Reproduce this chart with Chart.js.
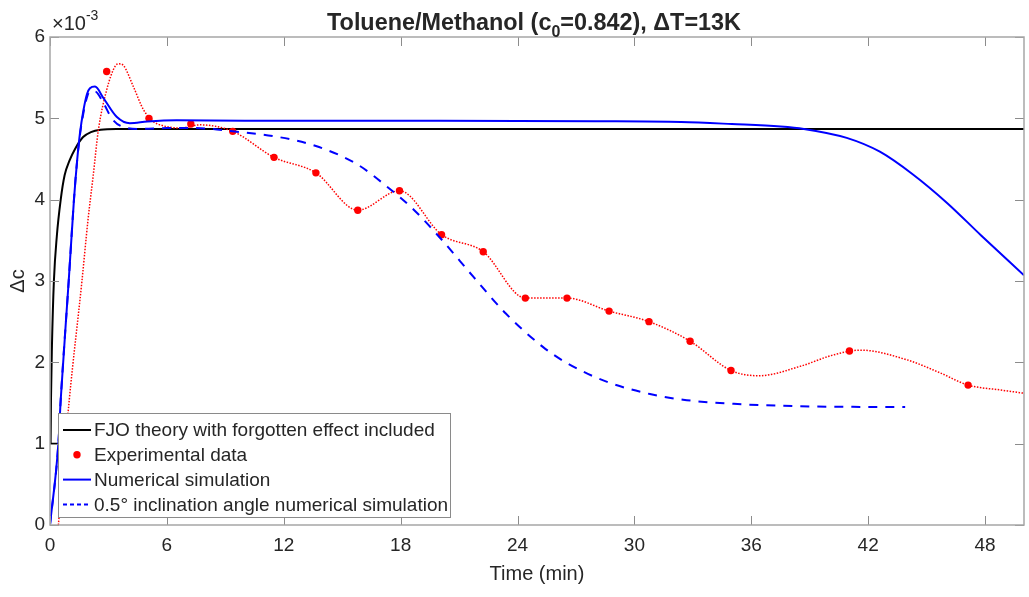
<!DOCTYPE html>
<html lang="en">
<head>
  <meta charset="UTF-8">
  <title>Toluene/Methanol - Delta c over time</title>
  <script src="https://cdn.jsdelivr.net/npm/chart.js"></script>
  <style>
    body {
      margin: 0;
      background-color: #fff;
    }

    canvas {
      display: block;
    }
  </style>
</head>
<body>

  <canvas id="grafico" width="1029" height="597"></canvas>

  <script>
    // values of delta c are in units of 1e-3
    const xTicks = [0, 6, 12, 18, 24, 30, 36, 42, 48];
    const yTicks = [0, 1, 2, 3, 4, 5, 6];

    // experimental points
    const expTime = [2.91, 5.08, 7.23, 9.38, 11.5, 13.65, 15.8, 17.94, 20.1, 22.24, 24.4, 26.54, 28.7, 30.75, 32.86, 34.96, 41.04, 47.13];
    const expDc = [5.575, 5.0, 4.93, 4.84, 4.52, 4.33, 3.87, 4.11, 3.57, 3.36, 2.79, 2.79, 2.63, 2.50, 2.26, 1.90, 2.14, 1.72];

    // red dotted fit through the experimental data
    const fitTime = [0.43, 0.99, 1.64, 1.95, 2.22, 2.48, 2.91, 3.34, 3.55, 3.77, 4.28, 4.79, 5.31, 5.65, 6.68, 7.7, 9.38, 11.5, 13.65, 15.8, 17.94, 20.1, 22.24, 24.4, 26.54, 28.7, 30.75, 32.86, 34.96, 36.4, 38.5, 40.2, 41.6, 44.0, 45.7, 47.13, 48.8, 50];
    const fitDc = [0, 1.54, 3.0, 3.75, 4.3, 4.85, 5.35, 5.64, 5.67, 5.65, 5.39, 5.11, 4.96, 4.92, 4.88, 4.92, 4.84, 4.52, 4.33, 3.87, 4.11, 3.57, 3.36, 2.79, 2.79, 2.63, 2.50, 2.26, 1.90, 1.835, 1.95, 2.09, 2.15, 2.03, 1.87, 1.72, 1.66, 1.62];

    // FJO theory
    const fjoTime = [0.4, 0.03, 0.05, 0.1, 0.2, 0.35, 0.55, 0.75, 1.0, 1.3, 1.7, 2.1, 2.6, 3.4, 50];
    const fjoDc = [1.0, 1.0, 1.54, 2.2, 3.0, 3.55, 4.0, 4.3, 4.48, 4.63, 4.77, 4.83, 4.86, 4.87, 4.87];

    // numerical simulation
    const simTime = [0, 0.43, 0.55, 0.96, 1.23, 1.4, 1.54, 1.71, 1.9, 2.05, 2.31, 2.74, 3.42, 4.1, 5.0, 6.5, 10, 20, 28, 32.4, 35, 37.5, 38.7, 40.9, 42.6, 44.3, 46.05, 47.8, 50];
    const simDc = [0, 1.0, 1.54, 3.0, 4.0, 4.5, 4.82, 5.09, 5.3, 5.37, 5.39, 5.25, 5.02, 4.94, 4.96, 4.975, 4.97, 4.97, 4.965, 4.955, 4.93, 4.90, 4.87, 4.76, 4.59, 4.31, 3.96, 3.56, 3.07];

    // 0.5 degree inclination simulation
    const incTime = [0, 0.43, 0.55, 0.96, 1.23, 1.4, 1.54, 1.71, 1.9, 2.05, 2.31, 2.74, 3.17, 3.68, 4.62, 6, 7.5, 9.38, 11.5, 13.65, 15.8, 17.3, 18.66, 20.1, 21.74, 23.4, 25.3, 26.54, 28.6, 30.8, 32.5, 35.1, 38.5, 43.9];
    const incDc = [0, 1.0, 1.54, 3.0, 4.0, 4.5, 4.8, 5.06, 5.26, 5.33, 5.33, 5.19, 5.0, 4.9, 4.87, 4.88, 4.88, 4.84, 4.78, 4.66, 4.43, 4.16, 3.88, 3.51, 3.05, 2.6, 2.19, 1.99, 1.76, 1.61, 1.54, 1.49, 1.46, 1.45];

    function pontos(xs, ys) {
      return xs.map((x, i) => ({ x: x, y: ys[i] }));
    }

    const corTexto = '#262626';
    const fonte = 'Arial, "Liberation Sans", sans-serif';

    // frame with inward ticks, title, exponent and legend, drawn the MATLAB way
    const moldura = {
      id: 'moldura',
      afterDatasetsDraw(chart) {
        const ctx = chart.ctx;
        const a = chart.chartArea;
        const sx = chart.scales.x;
        const sy = chart.scales.y;
        const tam = 9;
        ctx.save();
        ctx.strokeStyle = '#8c8c8c';
        ctx.lineWidth = 1;
        ctx.beginPath();
        xTicks.forEach(v => {
          const px = Math.round(sx.getPixelForValue(v)) + 0.5;
          ctx.moveTo(px, a.bottom); ctx.lineTo(px, a.bottom - tam);
          ctx.moveTo(px, a.top); ctx.lineTo(px, a.top + tam);
        });
        yTicks.forEach(v => {
          const py = Math.round(sy.getPixelForValue(v)) + 0.5;
          ctx.moveTo(a.left, py); ctx.lineTo(a.left + tam, py);
          ctx.moveTo(a.right, py); ctx.lineTo(a.right - tam, py);
        });
        ctx.stroke();
        ctx.strokeStyle = '#a6a6a6';
        ctx.lineWidth = 1.5;
        ctx.strokeRect(a.left, a.top, a.right - a.left, a.bottom - a.top);
        ctx.restore();
      },
      afterDraw(chart) {
        const ctx = chart.ctx;
        const a = chart.chartArea;
        ctx.save();
        ctx.fillStyle = corTexto;
        ctx.textBaseline = 'alphabetic';

        // title with subscript
        const p1 = 'Toluene/Methanol (c';
        const p2 = '0';
        const p3 = '=0.842), \u0394T=13K';
        const fTit = 'bold 23.4px ' + fonte;
        const fSub = 'bold 16px ' + fonte;
        ctx.font = fTit;
        const w1 = ctx.measureText(p1).width;
        const w3 = ctx.measureText(p3).width;
        ctx.font = fSub;
        const w2 = ctx.measureText(p2).width;
        let x = (a.left + a.right) / 2 - 3 - (w1 + w2 + w3) / 2;
        ctx.textAlign = 'left';
        ctx.font = fTit;
        ctx.fillText(p1, x, 30);
        ctx.font = fSub;
        ctx.fillText(p2, x + w1, 37);
        ctx.font = fTit;
        ctx.fillText(p3, x + w1 + w2, 30);

        // exponent
        ctx.font = '20px ' + fonte;
        ctx.fillText('\u00d710', a.left + 2, 30);
        const wx = ctx.measureText('\u00d710').width;
        ctx.font = '14px ' + fonte;
        ctx.fillText('-3', a.left + 2 + wx, 20);

        // legend
        const caixa = { x: 58, y: 413, w: 392, h: 104 };
        ctx.fillStyle = '#fff';
        ctx.fillRect(caixa.x, caixa.y, caixa.w, caixa.h);
        ctx.strokeStyle = '#8a8a8a';
        ctx.lineWidth = 1;
        ctx.strokeRect(caixa.x + 0.5, caixa.y + 0.5, caixa.w, caixa.h);

        const itens = chart.data.datasets.filter(d => d.legenda);
        itens.sort((d1, d2) => d1.legenda - d2.legenda);
        ctx.font = '19px ' + fonte;
        ctx.textBaseline = 'middle';
        itens.forEach((d, i) => {
          const y = caixa.y + 17 + i * 24.8;
          if (d.showLine) {
            ctx.strokeStyle = d.borderColor;
            ctx.lineWidth = d.borderWidth;
            ctx.setLineDash(d.borderDash && d.borderDash.length ? [4, 3] : []);
            ctx.beginPath();
            ctx.moveTo(63, y);
            ctx.lineTo(91, y);
            ctx.stroke();
            ctx.setLineDash([]);
          } else {
            ctx.fillStyle = d.pointBackgroundColor;
            ctx.beginPath();
            ctx.arc(77, y, 3.7, 0, Math.PI * 2);
            ctx.fill();
          }
          ctx.fillStyle = corTexto;
          ctx.fillText(d.label, 94, y + 1);
        });
        ctx.restore();
      }
    };

    const ctx = document.getElementById('grafico').getContext('2d');
    new Chart(ctx, {
      type: 'scatter',
      data: {
        datasets: [
          {
            label: '0.5\u00b0 inclination angle numerical simulation',
            legenda: 4,
            data: pontos(incTime, incDc),
            showLine: true,
            borderColor: '#0000ff',
            borderWidth: 2,
            borderDash: [9, 8],
            pointRadius: 0,
            cubicInterpolationMode: 'monotone',
            order: 1
          },
          {
            label: 'Numerical simulation',
            legenda: 3,
            data: pontos(simTime, simDc),
            showLine: true,
            borderColor: '#0000ff',
            borderWidth: 2,
            pointRadius: 0,
            cubicInterpolationMode: 'monotone',
            order: 2
          },
          {
            label: 'Experimental data',
            legenda: 2,
            data: pontos(expTime, expDc),
            showLine: false,
            pointRadius: 3.7,
            pointBackgroundColor: '#ff0000',
            pointBorderWidth: 0,
            order: 3
          },
          {
            label: 'fit',
            data: pontos(fitTime, fitDc),
            showLine: true,
            borderColor: '#ff0000',
            borderWidth: 1.5,
            borderDash: [1.5, 1.5],
            pointRadius: 0,
            cubicInterpolationMode: 'monotone',
            order: 4
          },
          {
            label: 'FJO theory with forgotten effect included',
            legenda: 1,
            data: pontos(fjoTime, fjoDc),
            showLine: true,
            borderColor: '#000000',
            borderWidth: 2,
            pointRadius: 0,
            cubicInterpolationMode: 'monotone',
            order: 5
          }
        ]
      },
      options: {
        responsive: false,
        animation: false,
        devicePixelRatio: 1,
        layout: {
          padding: { left: 0, top: 37, right: 5, bottom: 0 }
        },
        plugins: {
          legend: { display: false },
          tooltip: { enabled: false },
          title: { display: false }
        },
        scales: {
          x: {
            type: 'linear',
            min: 0,
            max: 50,
            grid: { display: false, drawTicks: false },
            border: { display: false },
            afterBuildTicks: s => { s.ticks = xTicks.map(v => ({ value: v })); },
            afterFit: s => { s.height = 72; },
            ticks: {
              color: corTexto,
              padding: 9,
              maxRotation: 0,
              font: { family: fonte, size: 19 }
            },
            title: {
              display: true,
              text: 'Time (min)',
              color: corTexto,
              padding: { top: 0, bottom: 11 },
              font: { family: fonte, size: 20 }
            }
          },
          y: {
            type: 'linear',
            min: 0,
            max: 6,
            grid: { display: false, drawTicks: false },
            border: { display: false },
            afterBuildTicks: s => { s.ticks = yTicks.map(v => ({ value: v })); },
            afterFit: s => { s.width = 50; },
            ticks: {
              color: corTexto,
              padding: 5,
              font: { family: fonte, size: 19 }
            },
            title: {
              display: true,
              text: '\u0394c',
              color: corTexto,
              padding: { top: 6, bottom: 0 },
              font: { family: fonte, size: 20 }
            }
          }
        }
      },
      plugins: [moldura]
    });
  </script>

</body>
</html>
